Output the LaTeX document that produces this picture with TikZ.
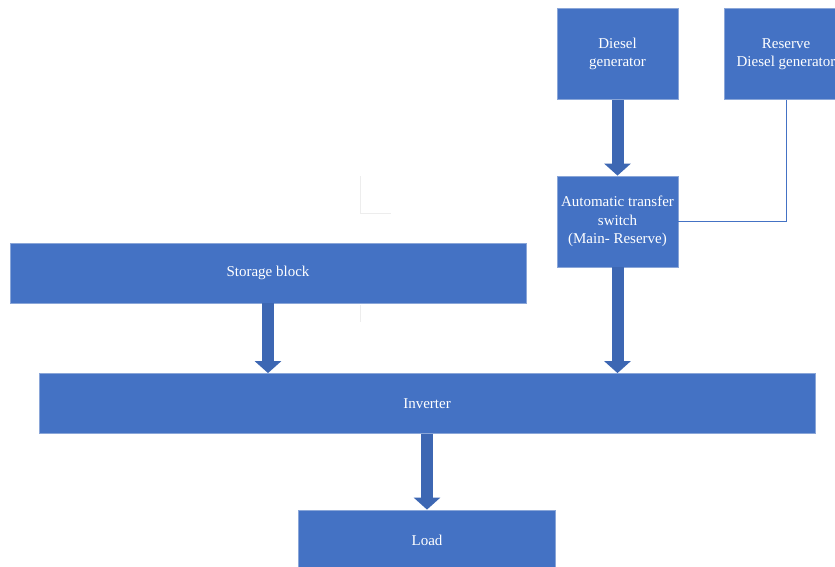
\documentclass[tikz,border=0pt]{standalone}
\usepackage{fontspec}
\setmainfont{Liberation Serif}
\usetikzlibrary{arrows.meta}
\definecolor{boxblue}{HTML}{4472C4}
\definecolor{boxedge}{HTML}{8AA6D8}
\definecolor{arrowblue}{HTML}{3D67B3}
\tikzset{
  blk/.style={rectangle, fill=boxblue, draw=boxedge, line width=0.8pt, text=white,
    font=\fontsize{15}{18.5}\selectfont, align=center, inner sep=2pt},
  bigarrow/.style={draw=arrowblue, line width=12pt,
    -{Triangle[width=26pt,length=12pt]}, arrowblue},
  thinlink/.style={draw=boxblue, line width=0.9pt},
  ghost/.style={draw=black!7, line width=0.8pt}
}
\begin{document}
\begin{tikzpicture}[x=1pt,y=-1pt]
\useasboundingbox (0,0) rectangle (835,566);
\clip (0,0) rectangle (835,566);
\fill[white] (0,0) rectangle (835,566);
% faint artefact lines
\draw[ghost] (360,176) -- (360,213) -- (391,213);
\draw[ghost] (360,305) -- (360,322);
% nodes
\node[blk, minimum width=121pt, minimum height=91pt] (dg) at (617.5,54) {Diesel\\generator};
\node[blk, minimum width=124pt, minimum height=91pt] (rdg) at (786,54) {Reserve\\Diesel generator};
\node[blk, minimum width=121pt, minimum height=91pt] (ats) at (617.5,221.5) {Automatic transfer\\switch\\(Main- Reserve)};
\node[blk, minimum width=516pt, minimum height=60pt] (sb) at (268,273) {Storage block};
\node[blk, minimum width=776pt, minimum height=60pt] (inv) at (427,403.5) {Inverter};
\node[blk, minimum width=257pt, minimum height=60pt] (load) at (427,540) {Load};
% connectors
\draw[thinlink] (rdg.south) |- (ats.east);
\draw[bigarrow] (dg.south) -- (ats.north);
\draw[bigarrow] (sb.south) -- (sb.south |- inv.north);
\draw[bigarrow] (ats.south) -- (ats.south |- inv.north);
\draw[bigarrow] (inv.south) -- (load.north);
\end{tikzpicture}
\end{document}
